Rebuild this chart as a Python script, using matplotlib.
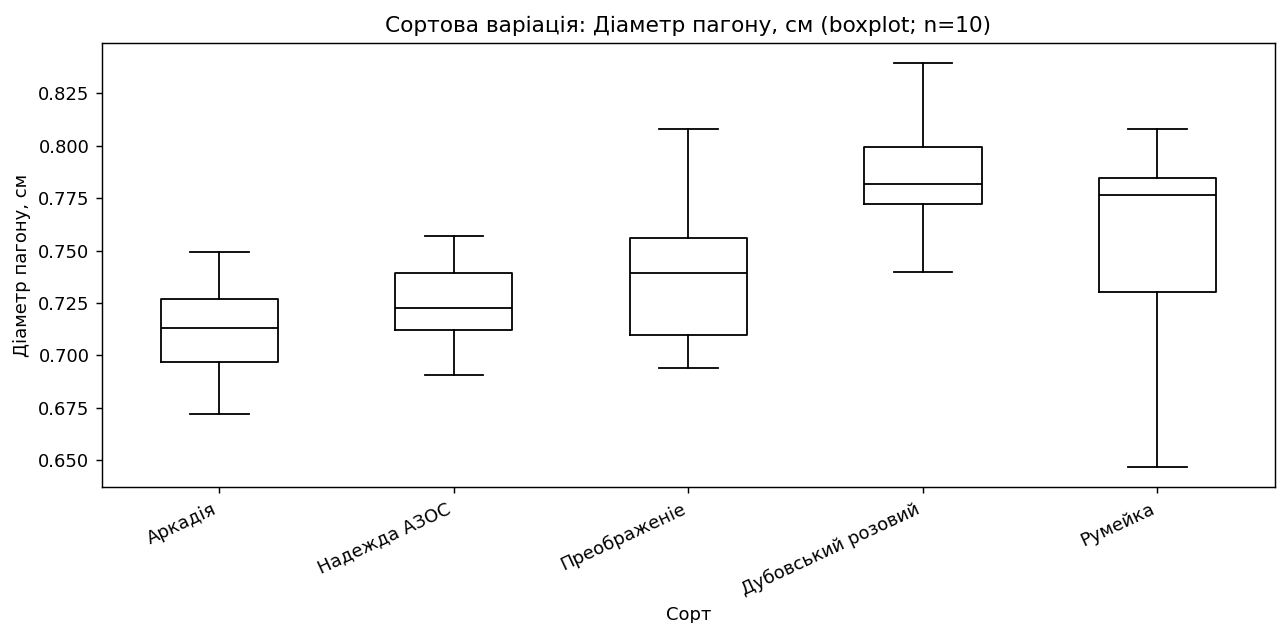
import matplotlib
matplotlib.use("Agg")
import matplotlib.pyplot as plt

categories = ["Аркадія", "Надежда АЗОС", "Преображеніе", "Дубовський розовий", "Румейка"]
whislo = [0.6722, 0.6905, 0.6940, 0.7399, 0.6468]
q1 = [0.6971, 0.7122, 0.7097, 0.7721, 0.7302]
med = [0.7132, 0.7226, 0.7391, 0.7819, 0.7764]
q3 = [0.7270, 0.7392, 0.7558, 0.7996, 0.7848]
whishi = [0.7493, 0.7569, 0.8080, 0.8394, 0.8080]

stats = []
for i, name in enumerate(categories):
    stats.append(dict(label=name, whislo=whislo[i], q1=q1[i], med=med[i],
                      q3=q3[i], whishi=whishi[i], fliers=[]))

DPI = 130
fig, ax = plt.subplots(figsize=(1285 / DPI, 623 / DPI), dpi=DPI)
ax.bxp(stats, showfliers=False,
       boxprops=dict(color="black"), medianprops=dict(color="black"),
       whiskerprops=dict(color="black"), capprops=dict(color="black"))
ax.set_title("Сортова варіація: Діаметр пагону, см (boxplot; n=10)")
ax.set_xlabel("Сорт")
ax.set_ylabel("Діаметр пагону, см")
plt.setp(ax.get_xticklabels(), rotation=25, ha="right")
fig.subplots_adjust(left=0.0794, right=0.992, top=0.931, bottom=0.218)
fig.savefig("out.png", dpi=DPI)
